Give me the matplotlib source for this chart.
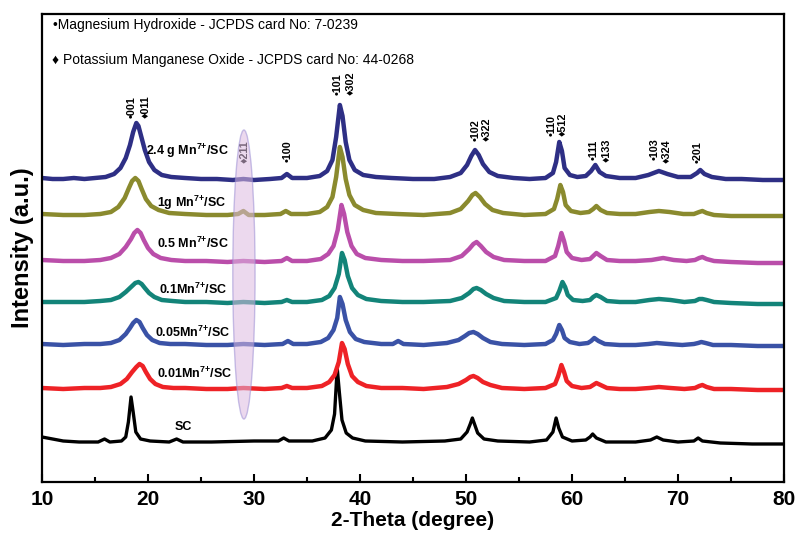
import matplotlib
matplotlib.use('Agg')
import matplotlib.pyplot as plt
from matplotlib.patches import Ellipse

# XRD patterns, intensity in arbitrary units (offset stacked as in the figure)
sc_x = [10, 11, 12, 13.5, 15.3, 15.9, 16.4, 17.5, 17.9, 18.15, 18.4, 18.6, 18.85, 19.3, 20.2, 22, 22.7, 23.3,
        26, 30, 32.3, 32.8, 33.3, 35.5, 36.7, 37.3, 37.6, 37.85, 38.05, 38.3, 38.7, 39.3, 40.5, 44, 48, 49.5,
        50.1, 50.4, 50.6, 50.8, 51.1, 51.7, 53, 56, 57.6, 58.2, 58.5, 58.75, 59.1, 60, 61.3, 61.7, 61.95, 62.3,
        63.2, 66, 67.4, 68.0, 68.6, 70, 71.5, 71.9, 72.3, 74, 77, 80]
sc_y = [45, 43, 41, 40, 40, 43, 40, 41, 45, 60, 85, 70, 50, 43, 41, 40, 43, 40,
        40, 41, 41, 44, 41, 41, 44, 52, 68, 114, 90, 62, 49, 44, 41, 40, 41, 43,
        50, 58, 64, 58, 49, 43, 41, 40, 42, 50, 64, 54, 45, 41, 42, 45, 48, 44,
        40, 40, 42, 45, 42, 40, 41, 44, 41, 39, 38, 38]

mn001_x = [10, 12, 14, 15.5, 16.5, 17.4, 18.0, 18.5, 18.9, 19.2, 19.5, 19.8, 20.2, 20.7, 21.4, 22.4, 23.5, 25.5,
           27.5, 29, 31, 32.6, 33.1, 33.6, 35, 36.4, 37.1, 37.6, 38.0, 38.3, 38.55, 38.85, 39.25, 39.8, 40.6, 42,
           44, 46, 48.2, 49.3, 50.0, 50.4, 50.7, 51.1, 51.6, 52.3, 53.4, 55.5, 57.5, 58.4, 58.7, 59.0, 59.25,
           59.5, 60.0, 60.9, 61.7, 62.0, 62.3, 62.7, 63.3, 64.5, 66, 67.3, 68.2, 69.3, 70.6, 71.6, 72.0, 72.3,
           72.7, 73.4, 75, 77.5, 80]
mn001_y = [94, 93, 94, 94, 95, 98, 103, 110, 115, 118, 116, 110, 103, 98, 95, 94, 94, 93,
           93, 94, 93, 94, 96, 94, 94, 96, 100, 107, 120, 139, 133, 118, 106, 100, 96, 94,
           94, 93, 95, 98, 102, 105, 106, 104, 100, 97, 94, 93, 94, 98, 106, 117, 110,
           101, 96, 94, 95, 97, 99, 97, 94, 93, 93, 94, 95, 94, 93, 94, 96, 97,
           95, 93, 93, 92, 92]

mn005_x = [10, 12, 14, 15.5, 16.5, 17.3, 17.9, 18.3, 18.6, 18.9, 19.2, 19.5, 19.9, 20.4, 21.1, 22.1, 23.5, 25.5,
           27.5, 29, 31, 32.7, 33.2, 33.7, 35, 36.3, 37.0, 37.5, 37.85, 38.1, 38.35, 38.65, 39.05, 39.6, 40.4, 42,
           43.1, 43.6, 44.1, 46, 48.2, 49.3, 49.9, 50.3, 50.7, 51.1, 51.6, 52.3, 53.4, 55.5, 57.5, 58.2, 58.5,
           58.8, 59.05, 59.3, 59.8, 60.7, 61.5, 61.8, 62.1, 62.5, 63.1, 64.5, 66, 67.2, 68.0, 69.1, 70.4, 71.5,
           71.9, 72.2, 72.6, 73.3, 75, 77.5, 80]
mn005_y = [138, 137, 138, 138, 139, 142, 148, 154, 159, 162, 160, 154, 147, 142, 139, 138, 138, 137,
           137, 138, 137, 138, 141, 138, 138, 140, 144, 152, 164, 185, 178, 162, 150, 143, 140, 138,
           138, 141, 138, 137, 139, 142, 146, 149, 150, 148, 144, 140, 138, 137, 138, 142, 148,
           157, 152, 144, 140, 138, 139, 141, 144, 141, 138, 137, 137, 138, 139, 138, 137, 138,
           139, 140, 139, 137, 137, 136, 136]

mn01_x = [10, 12, 14, 15.5, 16.5, 17.3, 17.9, 18.5, 18.8, 19.1, 19.4, 19.7, 20.1, 20.6, 21.3, 22.3, 23.5, 25.5,
          27.5, 29, 31, 32.6, 33.1, 33.6, 35, 36.4, 37.1, 37.6, 38.0, 38.3, 38.55, 38.85, 39.25, 39.8, 40.6, 42,
          44, 46, 48.5, 49.6, 50.3, 50.7, 51.0, 51.4, 51.9, 52.6, 53.6, 55.5, 57.5, 58.5, 58.8, 59.1, 59.35,
          59.6, 60.1, 61, 61.7, 62.0, 62.3, 62.7, 63.3, 64.5, 66, 67.3, 68.2, 69.3, 70.6, 71.6, 72.0, 72.3,
          72.7, 73.4, 75, 77.5, 80]
mn01_y = [180, 180, 180, 181, 182, 185, 190, 196, 199, 200, 198, 194, 189, 185, 182, 181, 180, 180,
          179, 180, 179, 180, 182, 180, 180, 182, 186, 194, 208, 229, 222, 206, 194, 187, 183, 181,
          180, 180, 181, 184, 189, 193, 194, 192, 188, 184, 181, 180, 180, 184, 191, 200, 195,
          187, 182, 181, 182, 185, 187, 185, 181, 180, 180, 182, 183, 182, 180, 181, 183, 183,
          182, 180, 179, 178, 178]

mn05_x = [10, 12, 14, 15.5, 16.5, 17.3, 17.9, 18.4, 18.7, 19.0, 19.3, 19.6, 20.0, 20.5, 21.2, 22.2, 23.5, 25.5,
          27.5, 29, 31, 32.6, 33.1, 33.6, 35, 36.3, 37.0, 37.5, 37.9, 38.25, 38.5, 38.8, 39.2, 39.7, 40.5, 42,
          44, 46, 48.5, 49.6, 50.3, 50.7, 51.0, 51.4, 51.9, 52.6, 53.6, 55.5, 57.5, 58.4, 58.7, 59.0, 59.25,
          59.5, 60.0, 60.9, 61.7, 62.0, 62.3, 62.7, 63.3, 64.5, 66, 67.5, 68.6, 69.6, 70.8, 71.6, 72.0, 72.3,
          72.7, 73.4, 75, 77.5, 80]
mn05_y = [222, 221, 221, 222, 224, 228, 235, 243, 249, 252, 249, 242, 234, 228, 224, 222, 221, 221,
          220, 221, 220, 221, 224, 221, 221, 223, 228, 236, 252, 277, 268, 250, 236, 228, 224, 222,
          221, 221, 222, 226, 233, 238, 240, 236, 230, 225, 222, 221, 221, 226, 236, 249, 241,
          230, 224, 222, 223, 226, 229, 226, 222, 221, 221, 222, 224, 222, 221, 222, 224, 225,
          223, 221, 220, 219, 219]

mn1_x = [10, 12, 14, 15.5, 16.5, 17.2, 17.8, 18.2, 18.5, 18.8, 19.1, 19.4, 19.8, 20.3, 21, 22, 23.5, 25.5,
         27.5, 28.5, 29.0, 29.5, 31, 32.5, 33.0, 33.5, 35, 36.2, 36.9, 37.4, 37.75, 38.1, 38.35, 38.65, 39.0,
         39.5, 40.3, 41.5, 43.5, 46, 48.5, 49.5, 50.2, 50.6, 50.9, 51.3, 51.8, 52.5, 53.5, 55.5, 57.5, 58.3,
         58.6, 58.9, 59.15, 59.4, 59.9, 60.8, 61.6, 62.0, 62.3, 62.7, 63.3, 64.5, 66, 67.3, 68.2, 69.2, 70.5,
         71.5, 72.0, 72.3, 72.7, 73.4, 75, 77.5, 80]
mn1_y = [268, 267, 267, 268, 270, 275, 284, 294, 301, 304, 301, 293, 283, 276, 272, 269, 268, 267,
         267, 268, 271, 267, 267, 268, 271, 268, 268, 270, 275, 285, 305, 335, 325, 303, 287,
         277, 272, 269, 268, 267, 269, 273, 281, 287, 289, 285, 278, 272, 269, 267, 268, 273,
         283, 297, 290, 277, 271, 269, 270, 273, 276, 272, 269, 268, 268, 270, 271, 270, 268,
         268, 270, 271, 269, 267, 266, 266, 266]

mn24_x = [10, 11, 12, 13, 14, 15, 16, 16.8, 17.4, 17.9, 18.3, 18.6, 18.9, 19.1, 19.4, 19.7, 20.1, 20.6, 21.3,
          22.2, 23.5, 25, 26.5, 28, 29, 30, 31.5, 32.6, 33.1, 33.6, 35, 36.2, 36.9, 37.4, 37.75, 38.1, 38.35,
          38.65, 39.0, 39.5, 40.3, 41.5, 43, 45, 47, 48.5, 49.5, 50.1, 50.5, 50.85, 51.2, 51.6, 52.2, 53, 54.5,
          56, 57.5, 58.2, 58.5, 58.8, 59.05, 59.3, 59.8, 60.5, 61.3, 61.8, 62.2, 62.6, 63.2, 64.5, 66, 67.2,
          68.2, 69, 70, 71.2, 71.8, 72.1, 72.5, 73.2, 74.5, 76, 78, 80]
mn24_y = [304, 303, 303, 304, 303, 304, 305, 308, 314, 324, 337, 350, 359, 356, 344, 332, 320, 312, 307,
          305, 304, 303, 303, 302, 303, 302, 303, 304, 308, 304, 304, 306, 311, 322, 345, 377, 366,
          340, 322, 312, 307, 305, 304, 303, 303, 305, 309, 317, 326, 332, 327, 318, 310, 306, 304,
          303, 304, 309, 320, 340, 331, 314, 307, 305, 306, 311, 317, 310, 306, 304, 304, 307,
          311, 308, 305, 305, 309, 312, 308, 305, 303, 303, 302, 302]

traces = [
    (sc_x, sc_y, 'black', 'SC', 22.55, 55),
    (mn001_x, mn001_y, '#EE2226', '0.01Mn$^{7{+}}$/SC', 20.85, 109),
    (mn005_x, mn005_y, '#3A52A6', '0.05Mn$^{7{+}}$/SC', 20.66, 150),
    (mn01_x, mn01_y, '#138479', '0.1Mn$^{7{+}}$/SC', 21.04, 193),
    (mn05_x, mn05_y, '#BA4EAA', '0.5 Mn$^{7{+}}$/SC', 20.85, 239),
    (mn1_x, mn1_y, '#8A8A2E', '1g Mn$^{7{+}}$/SC', 20.85, 279),
    (mn24_x, mn24_y, '#2E2F85', '2.4 g Mn$^{7{+}}$/SC', 19.81, 331),
]

# peak indices and where their rotated labels start
peak_labels = ['•001', '♦011', '♦211', '•100', '•101', '♦302', '•102', '♦322', '•110', '♦512',
               '•111', '♦133', '•103', '♦324', '•201']
peak_x = [18.49, 19.72, 29.15, 33.21, 37.92, 39.06, 50.94, 51.98, 58.05, 59.12, 62.08, 63.3, 67.83, 68.87, 71.89]
peak_y = [364, 364, 319, 320, 387, 387, 341, 341, 346, 346, 322, 320, 322, 319, 319]

plt.rcParams['font.family'] = ['Liberation Sans', 'DejaVu Sans']
plt.rcParams['mathtext.fontset'] = 'custom'
plt.rcParams['mathtext.bf'] = 'Liberation Sans:bold'
plt.rcParams['mathtext.rm'] = 'Liberation Sans:bold'
plt.rcParams['mathtext.default'] = 'bf'

fig = plt.figure(figsize=(7.96, 5.47), dpi=100)
ax = fig.add_axes([42 / 796, 65 / 547, 742 / 796, 468 / 547])

for x, y, c, lab, lx, ly in traces:
    lw = 2.4 if c == 'black' else 3.2
    ax.plot(x, y, color=c, lw=lw, solid_joinstyle='round')
    ax.text(lx, ly, lab, fontsize=9, fontweight='bold', va='center', ha='left')

for lab, px, py in zip(peak_labels, peak_x, peak_y):
    ax.text(px, py, lab, rotation=90, fontsize=7.8, fontweight='bold', ha='center', va='bottom')

ell = Ellipse((29.05, 207.5), width=2.1, height=289, facecolor='#DDBBE1', edgecolor='#9C8FD4',
              alpha=0.55, lw=1.0, zorder=5)
ax.add_patch(ell)

ax.text(11.0, 457, '•Magnesium Hydroxide - JCPDS card No: 7-0239', fontsize=10, va='center')
ax.text(10.94, 422, '♦ Potassium Manganese Oxide - JCPDS card No: 44-0268', fontsize=10, va='center')

ax.set_xlim(10, 80)
ax.set_ylim(0, 468)
ax.set_yticks([])
ax.set_xticks(range(10, 81, 10))
ax.set_xticks(range(15, 80, 10), minor=True)
ax.tick_params(axis='x', which='major', direction='in', length=6, width=1.5, pad=6)
ax.tick_params(axis='x', which='minor', direction='in', length=3.5, width=1.5)
for lab in ax.get_xticklabels():
    lab.set_fontweight('bold')
    lab.set_fontsize(15)
for s in ax.spines.values():
    s.set_linewidth(1.6)

ax.set_xlabel('2-Theta (degree)', fontsize=15, fontweight='bold', labelpad=1)
ax.set_ylabel('Intensity (a.u.)', fontsize=17, fontweight='bold', labelpad=6)

fig.savefig('out.png', dpi=100)
